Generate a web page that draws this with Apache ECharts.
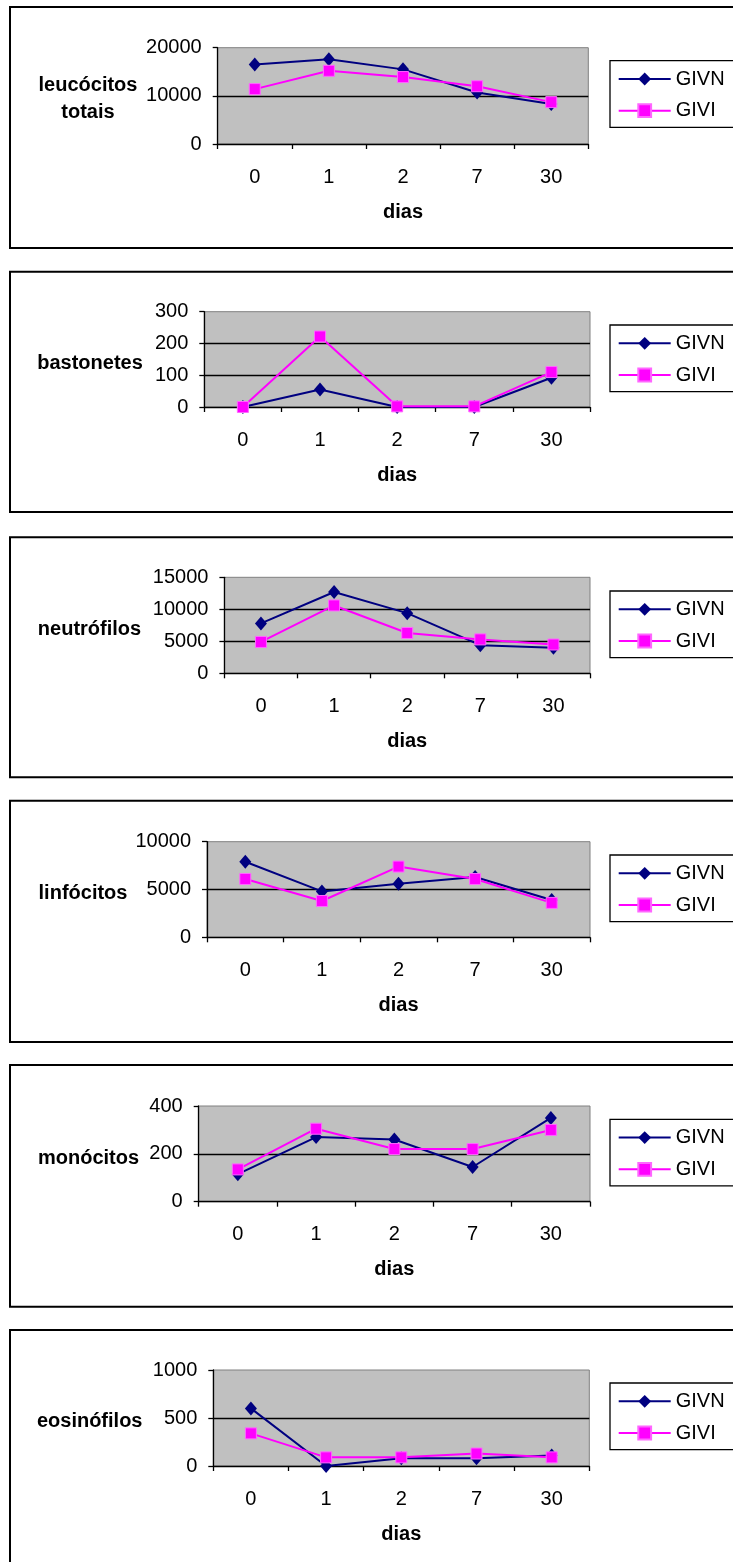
<!DOCTYPE html>
<html>
<head>
<meta charset="utf-8">
<script src="https://cdn.jsdelivr.net/npm/echarts@6/dist/echarts.min.js"></script>
<style>
  html, body { margin: 0; padding: 0; background: #ffffff; }
  #chart { width: 733px; height: 1562px; }
</style>
</head>
<body>
<div id="chart"></div>
<script>
// Categories (days after the procedure)
const dias = ['0', '1', '2', '7', '30'];
const seriesNames = ['GIVN', 'GIVI'];

// Blood counts per group
const leucocitosGIVN  = [16500, 17600, 15500, 10700, 8300];
const leucocitosGIVI  = [11400, 15200, 13900, 12000, 8700];
const bastonetesGIVN  = [0, 55, 0, 0, 92];
const bastonetesGIVI  = [0, 222, 2, 2, 110];
const neutrofilosGIVN = [7800, 12700, 9400, 4400, 4000];
const neutrofilosGIVI = [4900, 10600, 6300, 5300, 4500];
const linfocitosGIVN  = [7900, 4800, 5600, 6300, 3900];
const linfocitosGIVI  = [6100, 3800, 7400, 6100, 3600];
const monocitosGIVN   = [115, 270, 260, 145, 350];
const monocitosGIVI   = [135, 305, 220, 220, 300];
const eosinofilosGIVN = [600, 0, 80, 80, 110];
const eosinofilosGIVI = [340, 90, 90, 130, 90];

// Axis titles and value-axis ranges
const panelTitles = ['leucócitos\ntotais', 'bastonetes', 'neutrófilos', 'linfócitos', 'monócitos', 'eosinófilos'];
const yMax  = [20000, 300, 15000, 10000, 400, 1000];
const yStep = [10000, 100, 5000, 5000, 200, 500];
const xTitle = 'dias';

const panelData = [
  [leucocitosGIVN, leucocitosGIVI],
  [bastonetesGIVN, bastonetesGIVI],
  [neutrofilosGIVN, neutrofilosGIVI],
  [linfocitosGIVN, linfocitosGIVI],
  [monocitosGIVN, monocitosGIVI],
  [eosinofilosGIVN, eosinofilosGIVI]
];

// Frame, plot-area, legend and title placement of each panel
const layout = [
  { boxTop: 7,      boxBottom: 248,    left: 217.7, right: 588.3, top: 47.7,   bottom: 144,    legendTop: 60.7,   titleX: 88,   titleY: 98.5 },
  { boxTop: 271.7,  boxBottom: 512,    left: 204.3, right: 590,   top: 311.7,  bottom: 407,    legendTop: 325,    titleX: 90,   titleY: 363 },
  { boxTop: 537.3,  boxBottom: 777.3,  left: 224.4, right: 590,   top: 577.3,  bottom: 673.3,  legendTop: 591,    titleX: 89.5, titleY: 629.5 },
  { boxTop: 800.7,  boxBottom: 1042,   left: 207,   right: 590,   top: 841.7,  bottom: 937.3,  legendTop: 855,    titleX: 83,   titleY: 893.5 },
  { boxTop: 1065,   boxBottom: 1306.7, left: 198.7, right: 590,   top: 1106,   bottom: 1201.7, legendTop: 1119.3, titleX: 88.5, titleY: 1158.5 },
  { boxTop: 1330,   boxBottom: 1571,   left: 213.3, right: 589.3, top: 1370,   bottom: 1466,   legendTop: 1383,   titleX: 89.7, titleY: 1421.5 }
];

const FONT = '"Liberation Sans", Arial, Helvetica, sans-serif';
const NAVY = '#000080';
const MAGENTA = '#FF00FF';

const grids = [], xAxes = [], yAxes = [], series = [], legends = [], graphics = [];

layout.forEach((p, i) => {
  // panel frame
  graphics.push({
    type: 'rect',
    z: 0,
    shape: { x: 10, y: p.boxTop, width: 740, height: p.boxBottom - p.boxTop },
    style: { fill: 'none', stroke: '#000000', lineWidth: 2 }
  });
  // value-axis title, set horizontally to the left of the axis
  graphics.push({
    type: 'text',
    z: 5,
    x: p.titleX, y: p.titleY,
    style: {
      text: panelTitles[i],
      fill: '#000000',
      font: 'bold 20px ' + FONT,
      align: 'center', verticalAlign: 'middle',
      lineHeight: 27
    }
  });

  grids.push({
    left: p.left, top: p.top,
    width: p.right - p.left, height: p.bottom - p.top,
    show: true, backgroundColor: '#C0C0C0',
    borderColor: '#808080', borderWidth: 1,
    containLabel: false
  });

  xAxes.push({
    type: 'category', gridIndex: i, data: dias, boundaryGap: true,
    axisLine: { show: true, lineStyle: { color: '#000000', width: 1.3 } },
    axisTick: { show: true, length: 5, lineStyle: { color: '#000000', width: 1.3 } },
    axisLabel: { color: '#000000', fontSize: 20, fontFamily: FONT, margin: 23 },
    splitLine: { show: false },
    name: xTitle, nameLocation: 'middle', nameGap: 58,
    nameTextStyle: { color: '#000000', fontSize: 20, fontWeight: 'bold', fontFamily: FONT }
  });

  yAxes.push({
    type: 'value', gridIndex: i, min: 0, max: yMax[i], interval: yStep[i],
    axisLine: { show: true, lineStyle: { color: '#000000', width: 1.3 } },
    axisTick: { show: true, length: 5, lineStyle: { color: '#000000', width: 1.3 } },
    axisLabel: { color: '#000000', fontSize: 20, fontFamily: FONT, margin: 16,
                 formatter: v => String(v) },
    splitLine: { show: true, showMinLine: false, showMaxLine: false, lineStyle: { color: '#000000', width: 1.3 } }
  });

  series.push({
    name: seriesNames[0], type: 'line', xAxisIndex: i, yAxisIndex: i,
    data: panelData[i][0], clip: false,
    symbol: 'diamond', symbolSize: [12, 14],
    itemStyle: { color: NAVY },
    lineStyle: { color: NAVY, width: 2 }
  });
  series.push({
    name: seriesNames[1], type: 'line', xAxisIndex: i, yAxisIndex: i,
    data: panelData[i][1], clip: false,
    symbol: 'rect', symbolSize: 11,
    itemStyle: { color: MAGENTA, borderColor: '#FF66FF', borderWidth: 1 },
    lineStyle: { color: MAGENTA, width: 2 }
  });

  legends.push({
    data: seriesNames, orient: 'vertical',
    left: 610, top: p.legendTop,
    selectedMode: false,
    backgroundColor: '#FFFFFF', borderColor: '#000000', borderWidth: 1.3,
    padding: [8.3, 40, 6.6, 7.7],
    itemWidth: 52, itemHeight: 16, itemGap: 11.7,
    textStyle: { color: '#000000', fontSize: 20, fontFamily: FONT, lineHeight: 20 }
  });
});

const chart = echarts.init(document.getElementById('chart'), null, { renderer: 'canvas' });
chart.setOption({
  animation: false,
  backgroundColor: '#FFFFFF',
  textStyle: { fontFamily: FONT },
  graphic: graphics,
  grid: grids,
  xAxis: xAxes,
  yAxis: yAxes,
  legend: legends,
  series: series
});
</script>
</body>
</html>
